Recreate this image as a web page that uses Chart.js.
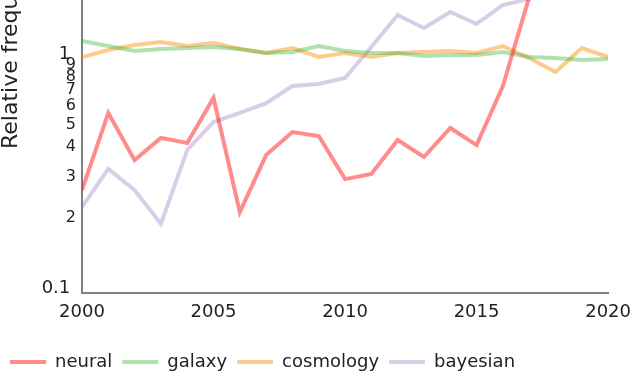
<!DOCTYPE html>
<html>
<head>
<meta charset="utf-8">
<script src="https://cdn.jsdelivr.net/npm/chart.js@4"></script>
<style>
  html, body { margin: 0; padding: 0; background: #fff; overflow: hidden; }
  #view { position: relative; width: 640px; height: 376px; overflow: hidden; }
  #box { position: absolute; left: 0; top: -240px; width: 640px; height: 621px; }
</style>
</head>
<body>
<div id="view"><div id="box"><canvas id="myChart"></canvas></div></div>
<script>
// years on the x axis
const years = [2000, 2001, 2002, 2003, 2004, 2005, 2006, 2007, 2008, 2009, 2010,
               2011, 2012, 2013, 2014, 2015, 2016, 2017, 2018, 2019, 2020];

// relative frequency of each term
const neural    = [0.262, 0.560, 0.352, 0.438, 0.417, 0.649, 0.211, 0.370, 0.464, 0.446, 0.292,
                   0.307, 0.429, 0.363, 0.483, 0.408, 0.730, 1.75, 2.6, 3.8, 5.2];
const galaxy    = [1.137, 1.082, 1.030, 1.050, 1.061, 1.071, 1.050, 1.010, 1.020, 1.082, 1.030,
                   1.010, 1.010, 0.981, 0.990, 0.990, 1.020, 0.971, 0.961, 0.943, 0.952];
const cosmology = [0.971, 1.040, 1.093, 1.126, 1.082, 1.114, 1.050, 1.010, 1.061, 0.971, 1.010,
                   0.971, 1.010, 1.020, 1.030, 1.010, 1.082, 0.961, 0.838, 1.061, 0.971];
const bayesian  = [0.222, 0.323, 0.262, 0.188, 0.389, 0.512, 0.560, 0.617, 0.730, 0.744, 0.790,
                   1.071, 1.468, 1.292, 1.512, 1.344, 1.620, 1.72, 1.9, 2.1, 2.3];

const names = ['neural', 'galaxy', 'cosmology', 'bayesian'];
const series = [neural, galaxy, cosmology, bayesian];
const color = ['rgba(255, 0, 0, 0.45)', 'rgba(60, 180, 60, 0.4)',
               'rgba(255, 140, 0, 0.45)', 'rgba(130, 90, 180, 0.3)'];

// y tick values and their labels
const yTicks = [0.1, 0.2, 0.3, 0.4, 0.5, 0.6, 0.7, 0.8, 0.9, 1];
const yLabels = ['0.1 ', '2', '3', '4', '5', '6', '7', '8', '9', '1 '];

Chart.defaults.font.family = 'DejaVu Sans';
Chart.defaults.color = '#222';

var datasets = [];
for (var index = 0; index < names.length; index++) {
  datasets.push({
    label: names[index],
    data: years.map((y, i) => ({x: y, y: series[index][i]})),
    borderColor: color[index],
    backgroundColor: color[index],
    borderWidth: 4,
    pointRadius: 0,
    tension: 0
  });
}

var config = {
  type: 'line',
  data: {datasets: datasets},
  options: {
    responsive: true,
    maintainAspectRatio: false,
    animation: false,
    layout: {padding: {top: 39, right: 27, left: 0, bottom: 0}},
    plugins: {
      tooltip: {enabled: false},
      legend: {
        position: 'bottom',
        align: 'start',
        labels: {
          boxWidth: 36,
          boxHeight: 4,
          padding: 10,
          font: {size: 18},
          color: '#222',
          generateLabels: chart =>
            Chart.defaults.plugins.legend.labels.generateLabels(chart)
              .map(l => Object.assign(l, {lineWidth: 0}))
        }
      }
    },
    scales: {
      x: {
        type: 'linear',
        min: 2000,
        max: 2020,
        grid: {display: false, drawTicks: false},
        border: {color: '#808080', width: 2},
        ticks: {stepSize: 5, padding: 9, font: {size: 18}, callback: v => String(v)},
        afterFit: s => { s.height = 50; }
      },
      y: {
        type: 'logarithmic',
        min: 0.0952,
        max: 12.3,
        grid: {display: false, drawTicks: false},
        border: {color: '#808080', width: 2},
        afterBuildTicks: s => { s.ticks = yTicks.map(v => ({value: v})); },
        ticks: {
          padding: 6,
          autoSkip: false,
          font: c => (c.tick && (c.tick.value === 1 || c.tick.value === 0.1)) ? {size: 18} : {size: 16},
          callback: (v, i) => yLabels[yTicks.indexOf(v)]
        },
        title: {
          display: true,
          text: 'Relative frequency',
          font: {size: 22},
          padding: {top: -2, bottom: 0}
        },
        afterFit: s => { s.width = 82; }
      }
    }
  }
};

var myChart = new Chart(document.getElementById('myChart'), config);
</script>
</body>
</html>
